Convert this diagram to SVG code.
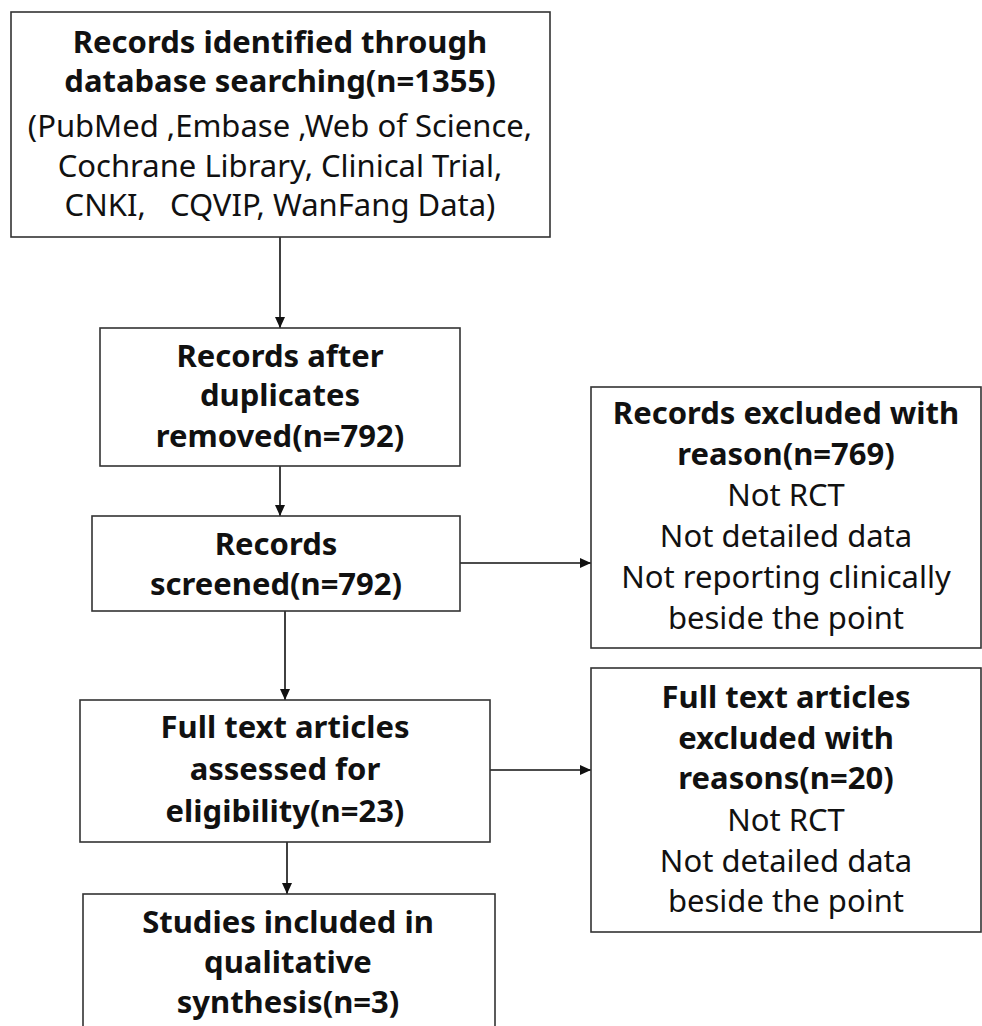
<svg xmlns="http://www.w3.org/2000/svg" width="982" height="1026" viewBox="0 0 982 1026">
<defs>
<style>
.box{fill:#fff;stroke:#333;stroke-width:1.6}
.t{font-family:"Noto Sans","DejaVu Sans",sans-serif;font-size:31px;fill:#111;text-anchor:middle;white-space:pre}
.b{font-weight:bold}
.c{stroke:#111;stroke-width:1.6;fill:none;marker-end:url(#ah)}
</style>
<marker id="ah" markerUnits="userSpaceOnUse" markerWidth="12" markerHeight="10" refX="11" refY="5" orient="auto">
<path d="M0,0 L11,5 L0,10 Z" fill="#111"/>
</marker>
</defs>
<rect width="982" height="1026" fill="#fff"/>
<g id="connectors">
<line class="c" x1="280" y1="237" x2="280" y2="328"/>
<line class="c" x1="280" y1="466" x2="280" y2="516"/>
<line class="c" x1="285" y1="611" x2="285" y2="700"/>
<line class="c" x1="287" y1="842" x2="287" y2="894"/>
<line class="c" x1="460" y1="563" x2="591" y2="563"/>
<line class="c" x1="490" y1="770" x2="591" y2="770"/>
</g>
<g id="identified">
<rect class="box" x="11" y="12" width="539" height="225"/>
<text class="t b" x="280" y="53">Records identified through</text>
<text class="t b" x="280" y="92">database searching(n=1355)</text>
<text class="t" x="280" y="137">(PubMed ,Embase ,Web of Science,</text>
<text class="t" x="280" y="177">Cochrane Library, Clinical Trial,</text>
<text class="t" x="280" y="216">CNKI,   CQVIP, WanFang Data)</text>
</g>
<g id="duplicates">
<rect class="box" x="100" y="328" width="360" height="138"/>
<text class="t b" x="280" y="367">Records after</text>
<text class="t b" x="280" y="406">duplicates</text>
<text class="t b" x="280" y="447">removed(n=792)</text>
</g>
<g id="screened">
<rect class="box" x="92" y="516" width="368" height="95"/>
<text class="t b" x="276" y="555">Records</text>
<text class="t b" x="276" y="595">screened(n=792)</text>
</g>
<g id="excluded1">
<rect class="box" x="591" y="387" width="390" height="261"/>
<text class="t b" x="786" y="424">Records excluded with</text>
<text class="t b" x="786" y="465">reason(n=769)</text>
<text class="t" x="786" y="506">Not RCT</text>
<text class="t" x="786" y="547">Not detailed data</text>
<text class="t" x="786" y="588">Not reporting clinically</text>
<text class="t" x="786" y="629">beside the point</text>
</g>
<g id="fulltext">
<rect class="box" x="80" y="700" width="410" height="142"/>
<text class="t b" x="285" y="738">Full text articles</text>
<text class="t b" x="285" y="780">assessed for</text>
<text class="t b" x="285" y="822">eligibility(n=23)</text>
</g>
<g id="excluded2">
<rect class="box" x="591" y="668" width="390" height="264"/>
<text class="t b" x="786" y="708">Full text articles</text>
<text class="t b" x="786" y="749">excluded with</text>
<text class="t b" x="786" y="789">reasons(n=20)</text>
<text class="t" x="786" y="831">Not RCT</text>
<text class="t" x="786" y="872">Not detailed data</text>
<text class="t" x="786" y="912">beside the point</text>
</g>
<g id="included">
<rect class="box" x="83" y="894" width="412" height="150"/>
<text class="t b" x="288" y="933">Studies included in</text>
<text class="t b" x="288" y="973">qualitative</text>
<text class="t b" x="288" y="1013">synthesis(n=3)</text>
</g>
</svg>
